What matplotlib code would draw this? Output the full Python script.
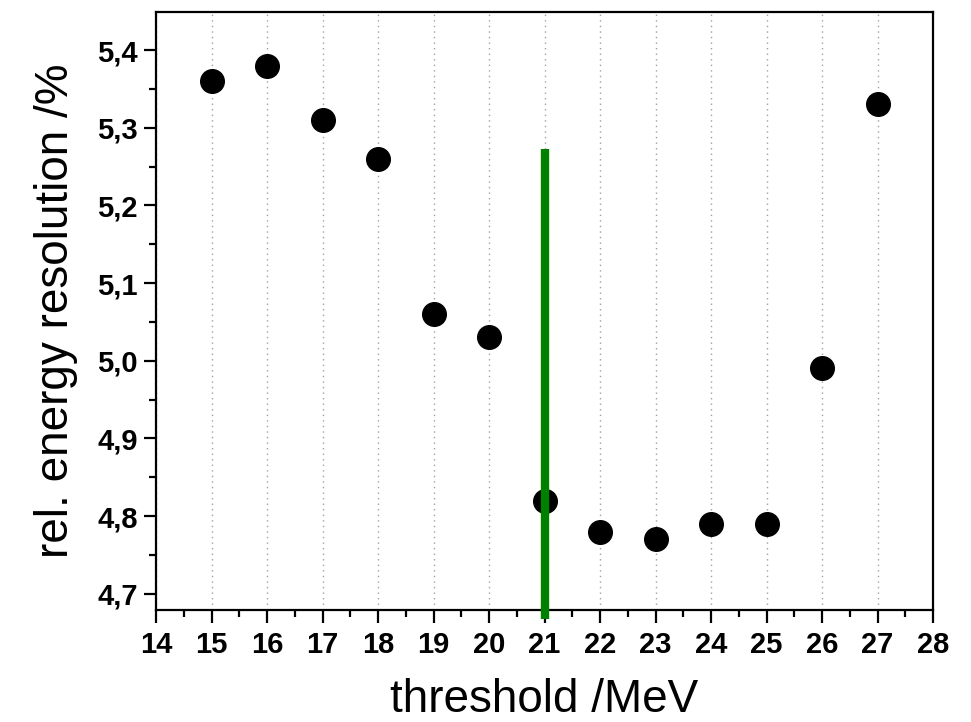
import numpy as np
import matplotlib.pyplot as plt
from matplotlib.ticker import MultipleLocator, FuncFormatter

# threshold scan data
threshold = [15, 16, 17, 18, 19, 20, 21, 22, 23, 24, 25, 26, 27]
resolution = [5.36, 5.38, 5.31, 5.26, 5.06, 5.03, 4.82, 4.78, 4.77, 4.79, 4.79, 4.99, 5.33]

# chosen threshold marker
chosen_x = 21
chosen_top = 5.273
chosen_bottom = 4.668

plt.rcParams['font.family'] = ['Liberation Sans', 'DejaVu Sans']

fig = plt.figure(figsize=(9.71, 7.22), dpi=100)
ax = fig.add_axes([0.1607, 0.1551, 0.8002, 0.8283])

ax.plot(threshold, resolution, 'o', color='black', markersize=17, zorder=3)
ax.plot([chosen_x, chosen_x], [chosen_bottom, chosen_top], color='#008000',
        linewidth=6, solid_capstyle='butt', clip_on=False, zorder=4)

ax.set_xlim(14, 28)
ax.set_ylim(4.679, 5.449)
ax.xaxis.set_major_locator(MultipleLocator(1))
ax.xaxis.set_minor_locator(MultipleLocator(0.5))
ax.yaxis.set_major_locator(MultipleLocator(0.1))
ax.yaxis.set_minor_locator(MultipleLocator(0.05))
ax.yaxis.set_major_formatter(FuncFormatter(lambda v, p: f"{v:.1f}".replace('.', ',')))

ax.grid(axis='x', which='major', linestyle=(0, (1, 3)), color='#a0a0a0', linewidth=1)
ax.set_axisbelow(True)

for s in ax.spines.values():
    s.set_linewidth(1.6)
ax.tick_params(which='major', direction='out', length=9, width=1.6)
ax.tick_params(which='minor', direction='out', length=5, width=1.6)
ax.tick_params(axis='x', which='major', pad=6)
ax.tick_params(axis='y', which='major', pad=4)
ax.tick_params(axis='both', labelsize=21)
for lab in ax.get_xticklabels() + ax.get_yticklabels():
    lab.set_fontweight('bold')

ax.set_xlabel("threshold /MeV", fontsize=33, labelpad=14)
ax.set_ylabel("rel. energy resolution /%", fontsize=33, labelpad=14)

plt.savefig("out.png", dpi=100)
